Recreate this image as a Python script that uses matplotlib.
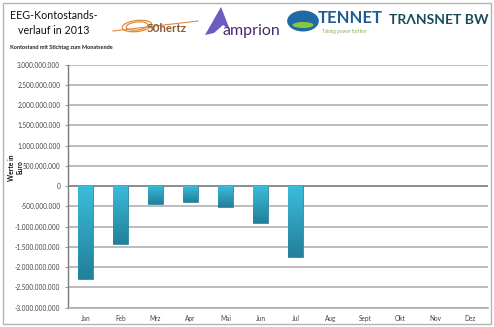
import numpy as np
import matplotlib
matplotlib.use("Agg")
import matplotlib.pyplot as plt
from matplotlib.patches import Rectangle, Ellipse, Polygon, Circle
from matplotlib.ticker import FuncFormatter

# EEG account balance at month end, 2013 (Euro)
months = ["Jan", "Feb", "Mrz", "Apr", "Mai", "Jun", "Jul", "Aug", "Sept", "Okt", "Nov", "Dez"]
balance = [-2.28e9, -1.43e9, -0.45e9, -0.39e9, -0.51e9, -0.90e9, -1.75e9,
           np.nan, np.nan, np.nan, np.nan, np.nan]
yticks = np.arange(-3.0e9, 3.0e9 + 1, 0.5e9)

plt.rcParams["font.family"] = ["Lato", "DejaVu Sans"]

W, H = 494, 327
fig = plt.figure(figsize=(W / 100, H / 100), dpi=100)


def fx(px):
    return px / W


def fy(py):
    return 1 - py / H


# outer frame
fig.patches.append(Rectangle((fx(3), fy(324)), fx(488), 321 / H, transform=fig.transFigure,
                             fill=False, edgecolor="#b4b4b4", lw=1.0))

# header
fig.text(fx(54), fy(23), "EEG-Kontostands-\nverlauf in 2013", ha="center", va="center",
         fontsize=7.7, color="#111111", linespacing=1.4)
fig.text(fx(10), fy(48), "Kontostand mit Stichtag zum Monatsende", ha="left", va="center",
         fontsize=4.0, fontweight="bold", color="#222222")

# 50hertz mark
for w, h, a in [(30, 11, 12), (22, 8, 12)]:
    fig.patches.append(Ellipse((fx(137), fy(26)), fx(w), h / H, angle=a, transform=fig.transFigure,
                               fill=False, edgecolor="#e08a3c", lw=0.9))
fig.add_artist(plt.Line2D([fx(113), fx(198)], [fy(31), fy(21)], transform=fig.transFigure,
                          color="#e08a3c", lw=0.8))
fig.text(fx(146), fy(29), "50hertz", ha="left", va="center", fontsize=8.3,
         fontweight="bold", color="#8a5a36")

# amprion mark
fig.patches.append(Polygon([(fx(205), fy(35)), (fx(221), fy(7)), (fx(230), fy(30)), (fx(223), fy(25)),
                            (fx(214), fy(33))], closed=True, transform=fig.transFigure,
                           facecolor="#6a5cc0", edgecolor="none"))
fig.text(fx(222), fy(31), "amprion", ha="left", va="center", fontsize=11.5, color="#4a2a6e")

# TenneT mark
fig.patches.append(Circle((fx(303), fy(21)), 10.5 / H, transform=fig.transFigure,
                          facecolor="#1f6aa5", edgecolor="none"))
fig.patches.append(Ellipse((fx(303), fy(25)), fx(21), 6 / H, transform=fig.transFigure,
                           facecolor="#8cc63f", edgecolor="none"))
fig.text(fx(318), fy(18), "TENNET", ha="left", va="center", fontsize=12,
         fontweight="bold", color="#1d5d94")
fig.text(fx(322), fy(31), "Taking power further", ha="left", va="center", fontsize=3.4,
         color="#8cae55")

# TransnetBW mark
fig.text(fx(389), fy(20), "TRΛNSNET BW", ha="left", va="center", fontsize=10,
         fontweight="bold", color="#1c4e5a")

# chart
ax = fig.add_axes([fx(68), fy(307.7), fx(420), (307.7 - 64.7) / H])
x = np.arange(len(months))
vals = np.array(balance)
bars = ax.bar(x[~np.isnan(vals)], vals[~np.isnan(vals)], width=0.41, color="#2fa3c4",
              edgecolor="#1f7890", lw=0.5, zorder=3)

# vertical shading inside each bar
grad = np.linspace(0, 1, 64).reshape(-1, 1)
cmap = matplotlib.colors.LinearSegmentedColormap.from_list("bar", ["#3cbbdc", "#22809a"])
for b in bars:
    x0, w, h = b.get_x(), b.get_width(), b.get_height()
    im = ax.imshow(grad, cmap=cmap, aspect="auto", extent=(x0, x0 + w, h, 0),
                   origin="lower" if h > 0 else "upper", zorder=3.5)
    im.set_clip_path(b)

ax.set_xlim(-0.5, len(months) - 0.5)
ax.set_ylim(yticks[0], yticks[-1])
ax.set_yticks(yticks)
ax.yaxis.set_major_formatter(FuncFormatter(lambda v, _: f"{v:,.0f}".replace(",", ".")))
ax.set_xticks(x)
ax.set_xticklabels(months)
ax.tick_params(axis="both", labelsize=4.7, labelcolor="#444444", colors="#888888", length=2, width=0.6)
ax.tick_params(axis="x", length=0, pad=5)
ax.grid(axis="y", color="#b0b0b0", lw=1.2, zorder=0)
ax.axhline(0, color="#858585", lw=1.2, zorder=2)
for s in ["top", "right"]:
    ax.spines[s].set_visible(False)
ax.spines["left"].set_color("#7a7a7a")
ax.spines["left"].set_linewidth(1.0)
ax.spines["bottom"].set_color("#b0b0b0")
ax.spines["bottom"].set_linewidth(1.2)
ax.set_ylabel("Werte in\nEuro", fontsize=4.9, fontweight="bold", color="#111111")
ax.yaxis.set_label_coords(-0.106, 0.577)

fig.savefig("out.png", dpi=100)
